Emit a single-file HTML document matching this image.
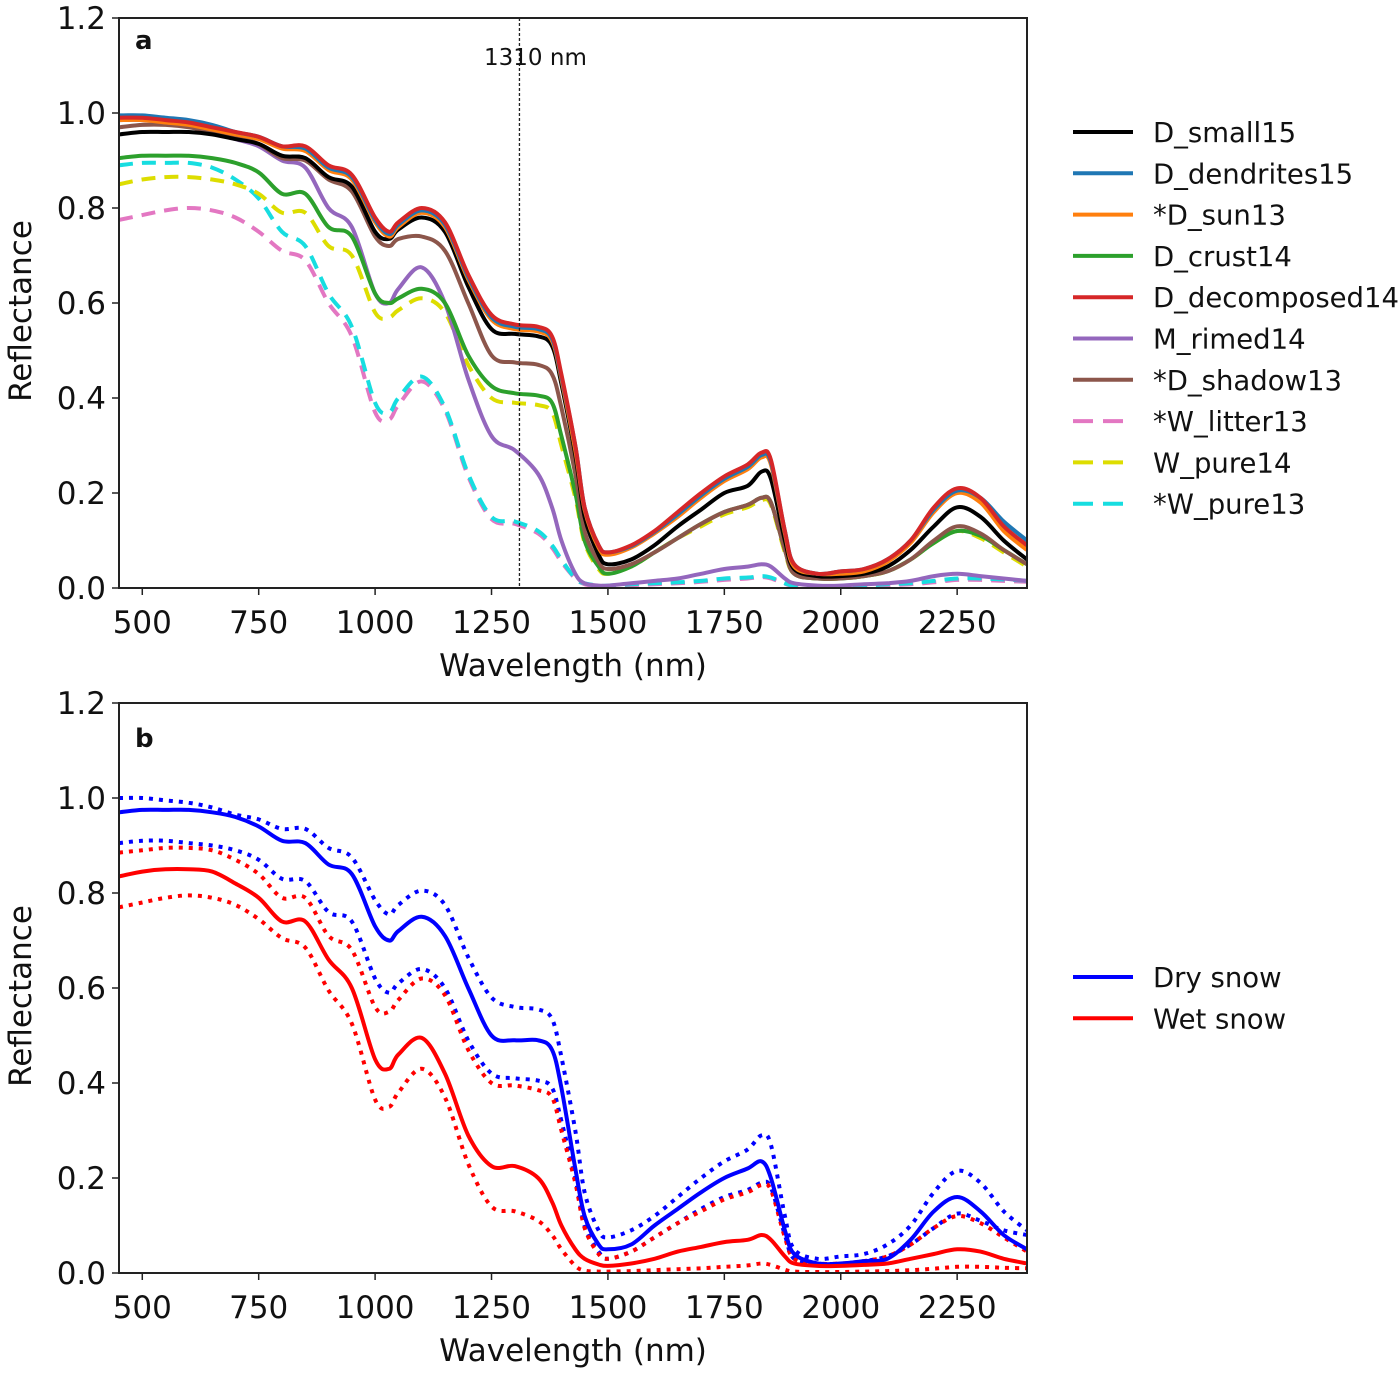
<!DOCTYPE html>
<html><head><meta charset="utf-8"><style>
html,body{margin:0;padding:0;background:#fff;}
svg text{font-family:"DejaVu Sans","Liberation Sans",sans-serif;fill:#111;}
</style></head><body>
<svg id="chart" width="1400" height="1371" xmlns="http://www.w3.org/2000/svg">
<g id="pa"></g>
<g id="pb"></g>
</svg>
<script>
const wl=[450,500,550,600,650,700,750,800,850,900,950,1000,1030,1050,1100,1150,1200,1250,1300,1350,1380,1400,1430,1450,1480,1500,1550,1600,1650,1700,1750,1800,1830,1850,1880,1900,1950,2000,2050,2100,2150,2200,2250,2300,2350,2400];
const xTicks=[500,750,1000,1250,1500,1750,2000,2250];
const yTicks=[0,0.2,0.4,0.6,0.8,1.0,1.2];
const yTickLabels=["0.0","0.2","0.4","0.6","0.8","1.0","1.2"];
const decomposed=[0.99,0.99,0.985,0.98,0.97,0.96,0.95,0.93,0.93,0.89,0.87,0.78,0.75,0.77,0.80,0.77,0.66,0.575,0.555,0.55,0.53,0.45,0.30,0.17,0.09,0.075,0.09,0.12,0.16,0.20,0.235,0.26,0.285,0.27,0.12,0.05,0.03,0.035,0.04,0.06,0.10,0.17,0.21,0.19,0.13,0.09];
const dendrites=[0.995,0.995,0.99,0.985,0.975,0.96,0.95,0.93,0.925,0.885,0.865,0.775,0.745,0.765,0.795,0.765,0.655,0.57,0.55,0.545,0.525,0.445,0.30,0.17,0.09,0.075,0.088,0.118,0.155,0.195,0.23,0.255,0.28,0.265,0.12,0.05,0.03,0.035,0.04,0.06,0.10,0.165,0.205,0.19,0.14,0.10];
const sun13=[0.985,0.985,0.98,0.975,0.965,0.955,0.945,0.925,0.92,0.88,0.86,0.77,0.74,0.76,0.79,0.76,0.65,0.565,0.545,0.54,0.52,0.44,0.29,0.165,0.085,0.07,0.085,0.115,0.15,0.19,0.225,0.25,0.275,0.26,0.115,0.045,0.03,0.03,0.035,0.055,0.095,0.16,0.2,0.18,0.12,0.08];
const small15=[0.955,0.96,0.96,0.96,0.955,0.945,0.935,0.91,0.905,0.865,0.845,0.75,0.735,0.755,0.78,0.75,0.635,0.545,0.535,0.53,0.51,0.43,0.28,0.15,0.07,0.05,0.06,0.09,0.13,0.165,0.2,0.215,0.245,0.23,0.1,0.04,0.025,0.025,0.03,0.045,0.08,0.13,0.17,0.15,0.1,0.06];
const shadow13=[0.97,0.975,0.975,0.97,0.96,0.95,0.935,0.905,0.9,0.86,0.835,0.74,0.72,0.735,0.74,0.71,0.6,0.49,0.475,0.47,0.45,0.38,0.24,0.12,0.055,0.04,0.05,0.075,0.105,0.135,0.16,0.175,0.19,0.18,0.08,0.03,0.02,0.02,0.025,0.035,0.06,0.1,0.13,0.115,0.08,0.05];
const crust14=[0.905,0.91,0.91,0.91,0.905,0.895,0.875,0.83,0.83,0.76,0.74,0.62,0.6,0.61,0.63,0.6,0.49,0.425,0.41,0.405,0.39,0.32,0.2,0.1,0.045,0.03,0.045,0.075,0.105,0.135,0.16,0.175,0.19,0.18,0.08,0.03,0.02,0.02,0.025,0.035,0.06,0.095,0.12,0.11,0.08,0.05];
const pure14=[0.85,0.86,0.865,0.865,0.86,0.85,0.83,0.79,0.79,0.72,0.7,0.58,0.57,0.585,0.61,0.58,0.47,0.4,0.39,0.385,0.37,0.3,0.19,0.095,0.04,0.03,0.045,0.075,0.105,0.13,0.155,0.17,0.185,0.175,0.075,0.03,0.02,0.02,0.025,0.035,0.06,0.095,0.12,0.105,0.075,0.045];
const rimed14=[0.985,0.985,0.98,0.975,0.96,0.945,0.93,0.9,0.885,0.8,0.76,0.62,0.6,0.63,0.675,0.6,0.44,0.32,0.29,0.24,0.17,0.1,0.03,0.01,0.005,0.005,0.01,0.015,0.02,0.03,0.04,0.045,0.05,0.045,0.02,0.01,0.005,0.005,0.008,0.01,0.015,0.025,0.03,0.025,0.02,0.015];
const pure13=[0.89,0.895,0.895,0.895,0.885,0.86,0.82,0.75,0.72,0.62,0.55,0.39,0.37,0.4,0.445,0.38,0.24,0.15,0.14,0.12,0.09,0.06,0.02,0.01,0.005,0.005,0.008,0.01,0.012,0.015,0.02,0.022,0.025,0.022,0.01,0.005,0.004,0.004,0.005,0.008,0.01,0.015,0.02,0.02,0.018,0.015];
const litter13=[0.775,0.785,0.795,0.8,0.795,0.78,0.75,0.71,0.69,0.6,0.53,0.37,0.355,0.385,0.435,0.375,0.235,0.145,0.135,0.115,0.085,0.055,0.02,0.008,0.004,0.004,0.006,0.008,0.01,0.013,0.017,0.02,0.023,0.02,0.009,0.004,0.003,0.003,0.004,0.006,0.008,0.012,0.017,0.017,0.015,0.013];
const dryMean=[0.97,0.975,0.975,0.975,0.97,0.96,0.94,0.91,0.905,0.86,0.84,0.73,0.7,0.72,0.75,0.71,0.6,0.5,0.49,0.49,0.47,0.39,0.22,0.12,0.06,0.05,0.06,0.1,0.135,0.17,0.2,0.22,0.235,0.2,0.09,0.04,0.02,0.02,0.025,0.03,0.07,0.13,0.16,0.13,0.08,0.05];
const dryHigh=[1.0,1.0,0.995,0.99,0.98,0.965,0.955,0.935,0.935,0.895,0.875,0.785,0.755,0.775,0.805,0.775,0.665,0.58,0.56,0.555,0.535,0.455,0.30,0.17,0.09,0.075,0.09,0.12,0.16,0.20,0.235,0.26,0.29,0.27,0.12,0.05,0.03,0.035,0.04,0.06,0.10,0.17,0.215,0.19,0.13,0.09];
const dryLow=[0.905,0.91,0.91,0.905,0.9,0.89,0.87,0.83,0.825,0.76,0.74,0.62,0.59,0.61,0.64,0.6,0.49,0.42,0.41,0.405,0.39,0.32,0.2,0.1,0.045,0.03,0.045,0.075,0.105,0.135,0.16,0.175,0.19,0.18,0.08,0.03,0.02,0.02,0.025,0.035,0.06,0.095,0.125,0.11,0.09,0.08];
const wetMean=[0.835,0.845,0.85,0.85,0.845,0.82,0.79,0.74,0.74,0.66,0.6,0.45,0.43,0.46,0.495,0.42,0.29,0.225,0.225,0.2,0.15,0.1,0.05,0.03,0.018,0.015,0.02,0.03,0.045,0.055,0.065,0.07,0.08,0.07,0.035,0.02,0.015,0.015,0.017,0.02,0.03,0.04,0.05,0.045,0.03,0.02];
const wetHigh=[0.885,0.89,0.895,0.895,0.89,0.87,0.84,0.79,0.79,0.71,0.68,0.56,0.55,0.575,0.62,0.585,0.47,0.4,0.395,0.385,0.37,0.3,0.19,0.095,0.04,0.03,0.045,0.075,0.105,0.13,0.155,0.17,0.185,0.175,0.075,0.03,0.02,0.02,0.025,0.035,0.06,0.095,0.12,0.105,0.075,0.045];
const wetLow=[0.77,0.78,0.79,0.795,0.79,0.775,0.745,0.705,0.685,0.595,0.525,0.365,0.35,0.38,0.43,0.37,0.23,0.14,0.13,0.11,0.08,0.05,0.015,0.005,0.003,0.003,0.004,0.006,0.008,0.01,0.013,0.016,0.02,0.017,0.007,0.003,0.002,0.002,0.003,0.004,0.006,0.009,0.013,0.013,0.011,0.01];

const NS="http://www.w3.org/2000/svg";
const X0=119,X1=1027,WMIN=450,WMAX=2400;
function sx(w){return X0+(w-WMIN)/(WMAX-WMIN)*(X1-X0);}
function mk(tag,attrs,parent){const e=document.createElementNS(NS,tag);for(const k in attrs)e.setAttribute(k,attrs[k]);parent.appendChild(e);return e;}
function pathFor(vals,sy){
  const p=wl.map((w,i)=>[sx(w),sy(vals[i])]);
  let d="M"+p[0][0].toFixed(1)+","+p[0][1].toFixed(1);
  for(let i=0;i<p.length-1;i++){
    const a=p[Math.max(0,i-1)],b=p[i],c=p[i+1],e=p[Math.min(p.length-1,i+2)];
    const c1=[b[0]+(c[0]-a[0])/6,b[1]+(c[1]-a[1])/6],c2=[c[0]-(e[0]-b[0])/6,c[1]-(e[1]-b[1])/6];
    d+="C"+c1[0].toFixed(1)+","+c1[1].toFixed(1)+" "+c2[0].toFixed(1)+","+c2[1].toFixed(1)+" "+c[0].toFixed(1)+","+c[1].toFixed(1);
  }
  return d;
}
function panel(g,top,letter,letterY,series,clipId){
  const bot=top+570;
  const sy=v=>bot-v/1.2*570;
  const defs=mk('defs',{},g);
  const cp=mk('clipPath',{id:clipId},defs);
  mk('rect',{x:X0,y:top,width:X1-X0,height:570},cp);
  const lines=mk('g',{'clip-path':'url(#'+clipId+')'},g);
  
  
  series.forEach(s=>{
    const el=mk('path',{d:pathFor(s.v,sy),fill:'none',stroke:s.c,'stroke-width':4,'stroke-linejoin':'round'},lines);
    if(s.dash)el.setAttribute('stroke-dasharray',s.dash);
    
    
  });
  const fr=mk('rect',{x:X0,y:top,width:X1-X0,height:570,fill:'none',stroke:'#222','stroke-width':2},g);
  
  
  xTicks.forEach(t=>{
    mk('line',{x1:sx(t),x2:sx(t),y1:bot,y2:bot+7,stroke:'#222','stroke-width':1.5},g);
    const tx=mk('text',{x:sx(t),y:bot+45,'font-size':31,'text-anchor':'middle'},g);
    tx.textContent=t;
    
    
  });
  yTicks.forEach((t,i)=>{
    mk('line',{x1:X0-7,x2:X0,y1:sy(t),y2:sy(t),stroke:'#222','stroke-width':1.5},g);
    const tx=mk('text',{x:X0-13,y:sy(t)+11,'font-size':31,'text-anchor':'end'},g);
    tx.textContent=yTickLabels[i];
    
    
  });
  const xt=mk('text',{x:573,y:bot+88,'font-size':31,'text-anchor':'middle'},g);
  xt.textContent='Wavelength (nm)';
  
  
  const yt=mk('text',{x:0,y:0,'font-size':31,'text-anchor':'middle',transform:'translate(31,'+(top+293)+') rotate(-90)'},g);
  yt.textContent='Reflectance';
  
  
  const lt=mk('text',{x:135,y:letterY,'font-size':26,'font-weight':'bold'},g);
  lt.textContent=letter;
  
  
  return sy;
}
function legend(g,entries,y0){
  entries.forEach((s,i)=>{
    const y=y0+i*41.3;
    const lg=mk('g',{},g);
    
    
    const ln=mk('line',{x1:1073,x2:1133,y1:y,y2:y,stroke:s.c,'stroke-width':4},lg);
    if(s.dash)ln.setAttribute('stroke-dasharray','20 10');
    const tx=mk('text',{x:1153,y:y+10,'font-size':27.5},lg);
    tx.textContent=s.name;
  });
}
const D='14 9';
const seriesA=[
 {id:'d-small15',name:'D_small15',v:small15,c:'#000'},
 {id:'d-dendrites15',name:'D_dendrites15',v:dendrites,c:'#1f77b4'},
 {id:'d-sun13',name:'*D_sun13',v:sun13,c:'#ff7f0e'},
 {id:'d-crust14',name:'D_crust14',v:crust14,c:'#2ca02c'},
 {id:'d-decomposed14',name:'D_decomposed14',v:decomposed,c:'#d62728'},
 {id:'m-rimed14',name:'M_rimed14',v:rimed14,c:'#9467bd'},
 {id:'d-shadow13',name:'*D_shadow13',v:shadow13,c:'#8c564b'},
 {id:'w-litter13',name:'*W_litter13',v:litter13,c:'#e377c2',dash:D},
 {id:'w-pure14',name:'W_pure14',v:pure14,c:'#dddd00',dash:D},
 {id:'w-pure13',name:'*W_pure13',v:pure13,c:'#17dde0',dash:D}
];
const ga=document.getElementById('pa');
const orderedA=[seriesA[7],seriesA[9],seriesA[8],seriesA[5],seriesA[3],seriesA[6],seriesA[0],seriesA[2],seriesA[1],seriesA[4]];
panel(ga,18,'a',49,orderedA,'clipA');
legend(ga,seriesA,132);
const vline=mk('line',{x1:sx(1310),x2:sx(1310),y1:18,y2:588,stroke:'#222','stroke-width':1.3,'stroke-dasharray':'3 2'},ga);


const vt=mk('text',{x:sx(1310)+16,y:65,'font-size':23,'text-anchor':'middle'},ga);
vt.textContent='1310 nm';



const gb=document.getElementById('pb');
const DOT='4 6';
const seriesB=[
 {id:'dry-high',name:'',v:dryHigh,c:'#0000ff',dash:DOT},
 {id:'dry-low',name:'',v:dryLow,c:'#0000ff',dash:DOT},
 {id:'wet-high',name:'',v:wetHigh,c:'#ff0000',dash:DOT},
 {id:'wet-low',name:'',v:wetLow,c:'#ff0000',dash:DOT},
 {id:'dry-mean',name:'Dry snow',v:dryMean,c:'#0000ff'},
 {id:'wet-mean',name:'Wet snow',v:wetMean,c:'#ff0000'}
];
panel(gb,703,'b',747,seriesB,'clipB');
legend(gb,[seriesB[4],seriesB[5]],977);
</script>
</body></html>
